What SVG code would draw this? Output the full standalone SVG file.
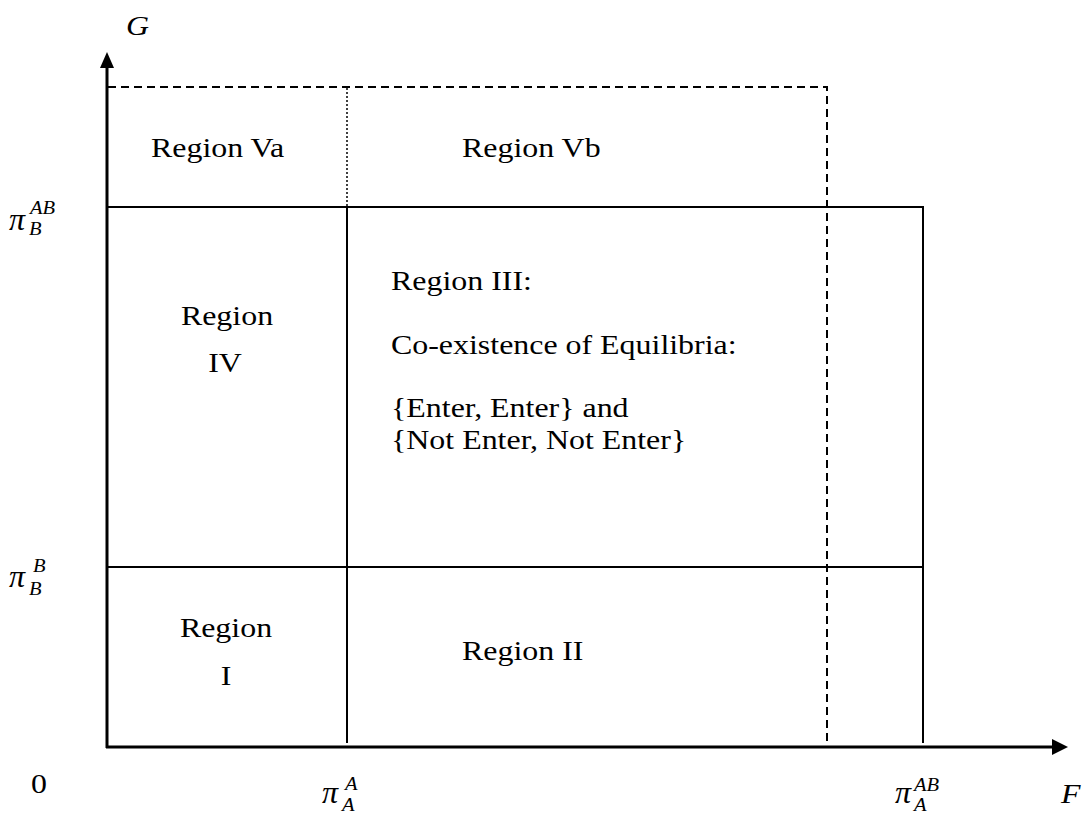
<svg xmlns="http://www.w3.org/2000/svg" width="1084" height="814" viewBox="0 0 1084 814">
<style>
.t{font-family:"Liberation Serif","Times New Roman",serif;font-size:28px;fill:#000}
.i{font-style:italic}
.pi{font-family:"Liberation Serif","Times New Roman",serif;font-style:italic;font-size:32px}
.s{font-family:"Liberation Serif","Times New Roman",serif;font-style:italic;font-size:18px}
.ax{stroke:#000;stroke-width:3;fill:none}
.ln{stroke:#000;stroke-width:2;fill:none}
.da{stroke:#000;stroke-width:2;fill:none;stroke-dasharray:8 5}
.dt{stroke:#000;stroke-width:1.5;fill:none;stroke-dasharray:2 2}
</style>
<rect width="1084" height="814" fill="#fff"/>
<g id="connectors">
<line class="ax" x1="107" y1="748" x2="107" y2="64"/>
<polygon points="107,52 100,68 114,68" fill="#000"/>
<line class="ax" x1="106" y1="747" x2="1054" y2="747"/>
<polygon points="1068,747 1052,739 1052,755" fill="#000"/>
<polyline class="da" points="108,87 827,87 827,747"/>
<line class="dt" x1="347" y1="88" x2="347" y2="206"/>
<polyline class="ln" points="108,207 923,207 923,743"/>
<line class="ln" x1="108" y1="567" x2="923" y2="567"/>
<line class="ln" x1="347" y1="207" x2="347" y2="743"/>
</g>
<g id="axis-g"><text class="t i" transform="translate(126 35) scale(1.14 1)">G</text></g>
<g id="axis-f"><text class="t i" transform="translate(1061 803) scale(1.14 1)">F</text></g>
<g id="origin"><text class="t" transform="translate(31 793) scale(1.14 1)">0</text></g>
<g id="tick-pi-a-a">
<text class="pi" x="322" y="803">π</text>
<text class="s" transform="translate(345 790) scale(1.14 1)">A</text>
<text class="s" transform="translate(342 811) scale(1.14 1)">A</text>
</g>
<g id="tick-pi-a-ab">
<text class="pi" x="895" y="803">π</text>
<text class="s" transform="translate(914 791) scale(1.14 1)">AB</text>
<text class="s" transform="translate(914 811) scale(1.14 1)">A</text>
</g>
<g id="tick-pi-b-ab">
<text class="pi" x="9" y="230">π</text>
<text class="s" transform="translate(30 214) scale(1.14 1)">AB</text>
<text class="s" transform="translate(29 235) scale(1.14 1)">B</text>
</g>
<g id="tick-pi-b-b">
<text class="pi" x="9" y="587">π</text>
<text class="s" transform="translate(33 572) scale(1.14 1)">B</text>
<text class="s" transform="translate(29 595) scale(1.14 1)">B</text>
</g>
<g id="region-va"><text class="t" transform="translate(151 157) scale(1.14 1)">Region Va</text></g>
<g id="region-vb"><text class="t" transform="translate(462 157) scale(1.14 1)">Region Vb</text></g>
<g id="region-iv">
<text class="t" text-anchor="middle" transform="translate(227 325) scale(1.14 1)">Region</text>
<text class="t" text-anchor="middle" transform="translate(225 372) scale(1.14 1)">IV</text>
</g>
<g id="region-iii">
<text class="t" transform="translate(391 290) scale(1.14 1)">Region III:</text>
<text class="t" transform="translate(391 354) scale(1.14 1)">Co-existence of Equilibria:</text>
<text class="t" transform="translate(391 417) scale(1.14 1)">{Enter, Enter} and</text>
<text class="t" transform="translate(391 449) scale(1.14 1)">{Not Enter, Not Enter}</text>
</g>
<g id="region-i">
<text class="t" text-anchor="middle" transform="translate(226 637) scale(1.14 1)">Region</text>
<text class="t" text-anchor="middle" transform="translate(226 685) scale(1.14 1)">I</text>
</g>
<g id="region-ii"><text class="t" transform="translate(462 660) scale(1.14 1)">Region II</text></g>
</svg>
